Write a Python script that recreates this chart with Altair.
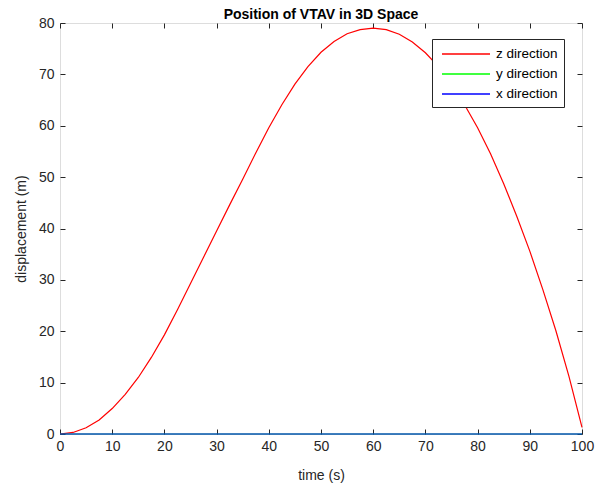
import altair as alt
import pandas as pd

# time samples (s)
t_vals = [0, 2.5, 5, 7.5, 10, 12.5, 15, 17.5, 20, 22.5, 25, 27.5, 30, 32.5, 35, 37.5, 40,
          42.5, 45, 47.5, 50, 52.5, 55, 57.5, 60, 62.5, 65, 67.5, 70, 72.5, 75, 77.5, 80,
          82.5, 85, 87.5, 90, 92.5, 95, 97.5, 100]
# z displacement (m)
z_vals = [0, 0.30, 1.22, 2.74, 4.95, 7.7, 11.0, 14.9, 19.3, 24.2, 29.3, 34.4, 39.5, 44.6,
          49.6, 54.7, 59.6, 64.1, 68.1, 71.5, 74.3, 76.4, 77.9, 78.7, 79.0, 78.7, 77.8,
          76.3, 74.2, 71.5, 68.1, 64.1, 59.6, 54.5, 48.7, 42.4, 35.6, 28.1, 20.1,
          11.2, 1.3]
y_vals = [0] * len(t_vals)
x_vals = [0] * len(t_vals)

series_names = ["z direction", "y direction", "x direction"]
series_colors = ["#ff0000", "#00ff00", "#0000ff"]
x_ticks = [0, 10, 20, 30, 40, 50, 60, 70, 80, 90, 100]
y_ticks = [0, 10, 20, 30, 40, 50, 60, 70, 80]

rows = []
for name, vals in zip(series_names, [z_vals, y_vals, x_vals]):
    for t, v in zip(t_vals, vals):
        rows.append({"time": t, "disp": v, "series": name})
df = pd.DataFrame(rows)

FONT = "Liberation Sans"
AX = "#262626"

xscale = alt.Scale(domain=[0, 100], nice=False, zero=False)
yscale = alt.Scale(domain=[0, 80], nice=False, zero=False)

main = alt.Chart(df).mark_line(strokeWidth=1.2).encode(
    x=alt.X("time:Q", scale=xscale,
            axis=alt.Axis(values=x_ticks, orient="bottom", offset=-5, tickSize=5, domain=False,
                          grid=False, labelFontSize=14, labelColor=AX, tickColor=AX, labelFont=FONT,
                          labelFlush=False, labelPadding=5, title="time (s)", titleFontSize=14,
                          titleFontWeight="normal", titleColor=AX, titleFont=FONT, titlePadding=15)),
    y=alt.Y("disp:Q", scale=yscale,
            axis=alt.Axis(values=y_ticks, orient="left", offset=-5, tickSize=5, domain=False,
                          grid=False, labelFontSize=14, labelColor=AX, tickColor=AX, labelFont=FONT,
                          labelFlush=False, labelPadding=6, title="displacement (m)", titleFontSize=14,
                          titleFontWeight="normal", titleColor=AX, titleFont=FONT, titlePadding=10)),
    color=alt.Color("series:N",
                    scale=alt.Scale(domain=series_names, range=series_colors),
                    legend=alt.Legend(title=None, orient="none", legendX=372, legendY=16,
                                      symbolType="M-3,0H3", symbolSize=256, symbolStrokeWidth=1.5,
                                      symbolOpacity=1, symbolOffset=19, labelOffset=21,
                                      labelFontSize=13.5, labelFont=FONT, labelColor="black",
                                      strokeColor=AX, fillColor="white", padding=6,
                                      rowPadding=4)),
)

aux = alt.Chart(df).mark_line(opacity=0).encode(
    x=alt.X("time:Q", scale=xscale,
            axis=alt.Axis(values=x_ticks, orient="top", offset=-5, tickSize=5, domain=False,
                          grid=False, labels=False, tickColor=AX, title=None)),
    y=alt.Y("disp:Q", scale=yscale,
            axis=alt.Axis(values=y_ticks, orient="right", offset=-5, tickSize=5, domain=False,
                          grid=False, labels=False, tickColor=AX, title=None)),
)

chart = alt.layer(main, aux).resolve_axis(x="independent", y="independent").properties(
    width=522, height=411,
    padding={"left": 60, "top": 23, "right": 31, "bottom": 55},
    autosize=alt.AutoSizeParams(type="none"),
    title=alt.TitleParams("Position of VTAV in 3D Space", fontSize=14, fontWeight="bold",
                          font=FONT, color="black", offset=6, dy=12, anchor="middle"),
).configure_view(stroke=AX, strokeWidth=1).configure(background="white")

chart.save("out.html", embed_options={"renderer": "svg", "actions": False})
